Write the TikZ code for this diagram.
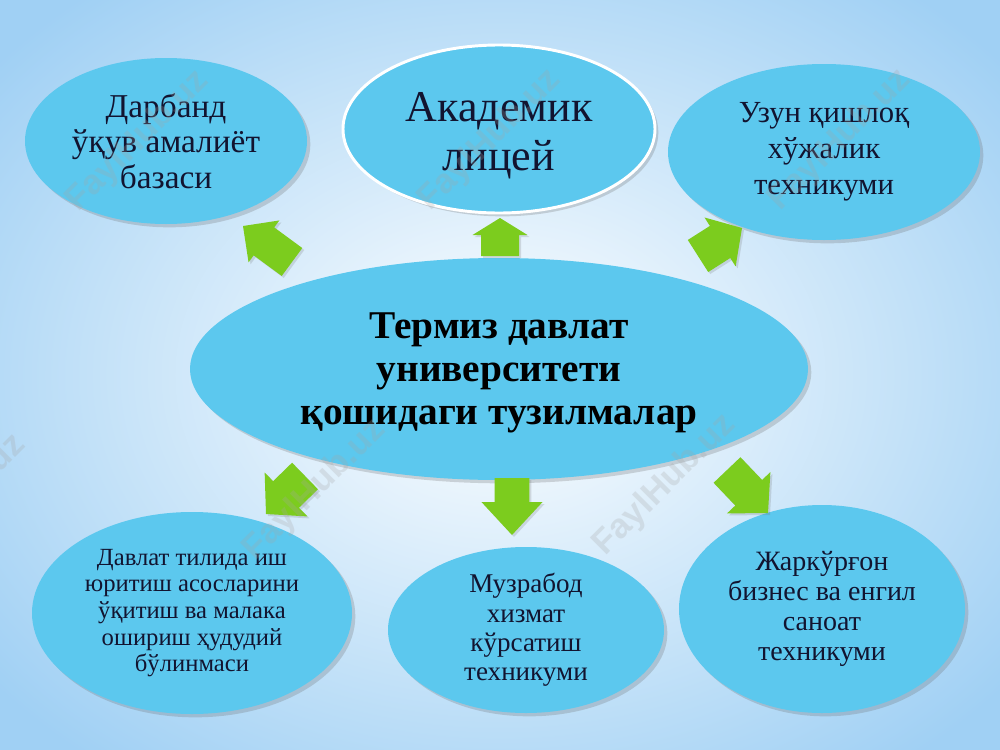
\documentclass[tikz,border=0pt]{standalone}
\usepackage{fontspec}
\setmainfont{Liberation Serif}
\newfontfamily\wmfont{Liberation Sans}
\usetikzlibrary{calc,shapes.geometric,shadows}
\definecolor{bgblue}{RGB}{160,208,244}
\definecolor{bub}{RGB}{92,200,238}
\definecolor{txt}{RGB}{18,20,48}
\definecolor{agreen}{RGB}{124,204,30}
\newcommand\garrow[5]{%
  \path ($(#2)!#5!(#1)$) coordinate (#2-h);
  \fill[arrowfill] ($(#1)!#3!90:(#2)$) -- ($(#2-h)!#3!90:(#2)$) -- ($(#2-h)!#4!90:(#2)$) -- (#2)
    -- ($(#2-h)!#4!-90:(#2)$) -- ($(#2-h)!#3!-90:(#2)$) -- ($(#1)!#3!-90:(#2)$) -- cycle;}
\tikzset{
  bubble/.style={ellipse, fill=bub, inner sep=0pt, align=center, text=txt,
    drop shadow={shadow xshift=2.5pt, shadow yshift=-2.5pt, opacity=0.25, fill=black!60}},
  lbl/.style={align=center, text=txt, inner sep=0pt},
  arrowfill/.style={fill=agreen,
    drop shadow={shadow xshift=1.5pt, shadow yshift=-1.5pt, opacity=0.2, fill=black!60}},
  wm/.style={rotate=45, text=gray!70, opacity=0.25, font=\wmfont\bfseries\fontsize{26}{30}\selectfont}
}
\begin{document}
\begin{tikzpicture}[x=0.75pt,y=-0.75pt]
\useasboundingbox (0,0) rectangle (1000,750);
\begin{scope}
\clip (0,0) rectangle (1000,750);
\shade[inner color=white, outer color=bgblue] (-150,-120) rectangle (1150,870);
\end{scope}

% nodes
\node[bubble, minimum width=211.5pt, minimum height=124.5pt,
  font=\fontsize{25}{26.5}\selectfont] (tl) at (166,141) {Дарбанд\\ўқув амалиёт\\базаси};
\node[bubble, draw=white, line width=2.2pt, minimum width=234pt, minimum height=126pt,
  label={[lbl, yshift=-5pt, font=\fontsize{33}{36.75}\selectfont]center:{Академик\\лицей}}] (tc) at (499,129) {};
\node[bubble, minimum width=234pt, minimum height=132pt,
  font=\fontsize{23}{27}\selectfont] (tr) at (824,152) {Узун қишлоқ\\хўжалик\\техникуми};
\node[bubble, minimum width=463.5pt, minimum height=166.5pt,
  label={[lbl, yshift=-3pt, text=black, font=\bfseries\fontsize{29.5}{32}\selectfont]center:{Термиз давлат\\университети\\қошидаги тузилмалар}}] (c) at (499,369) {};
\node[bubble, minimum width=240pt, minimum height=151.5pt,
  font=\fontsize{18.5}{20}\selectfont] (bl) at (192,613)
  {Давлат тилида иш\\юритиш асосларини\\ўқитиш ва малака\\ошириш ҳудудий\\бўлинмаси};
\node[bubble, minimum width=207pt, minimum height=124.5pt,
  font=\fontsize{20.3}{22}\selectfont] (bc) at (526,630)
  {Музрабод\\хизмат\\кўрсатиш\\техникуми};
\node[bubble, minimum width=214.5pt, minimum height=156pt,
  font=\fontsize{21}{22.5}\selectfont] (br) at (822,609)
  {Жаркўрғон\\бизнес ва енгил\\саноат\\техникуми};

% arrows
\coordinate (a1s) at (292,262); \coordinate (a1e) at (243,226);
\coordinate (a2s) at (500,256); \coordinate (a2e) at (500,218);
\coordinate (a3s) at (698,256); \coordinate (a3e) at (742,228);
\coordinate (a4s) at (305,476); \coordinate (a4e) at (266,514);
\coordinate (a5s) at (512,478); \coordinate (a5e) at (512,535);
\coordinate (a6s) at (727,470); \coordinate (a6e) at (768,513);
\garrow{a1s}{a1e}{13pt}{19.5pt}{19.5pt}
\garrow{a2s}{a2e}{14.25pt}{20.6pt}{12.75pt}
\garrow{a3s}{a3e}{14.25pt}{21.75pt}{19.5pt}
\garrow{a4s}{a4e}{13.9pt}{23pt}{21pt}
\garrow{a5s}{a5e}{13.1pt}{22.9pt}{24.75pt}
\garrow{a6s}{a6e}{13.9pt}{22.5pt}{21pt}

% watermarks
\begin{scope}
\clip (0,0) rectangle (1000,750);
\node[wm] (w1) at (138,141) {FaylHub.uz};
\node[wm] (w2) at (490,140) {FaylHub.uz};
\node[wm] (w3) at (840,140) {FaylHub.uz};
\node[wm] (w4) at (-45,505) {FaylHub.uz};
\node[wm] (w5) at (315,490) {FaylHub.uz};
\node[wm] (w6) at (665,485) {FaylHub.uz};
\end{scope}
\end{tikzpicture}
\end{document}
